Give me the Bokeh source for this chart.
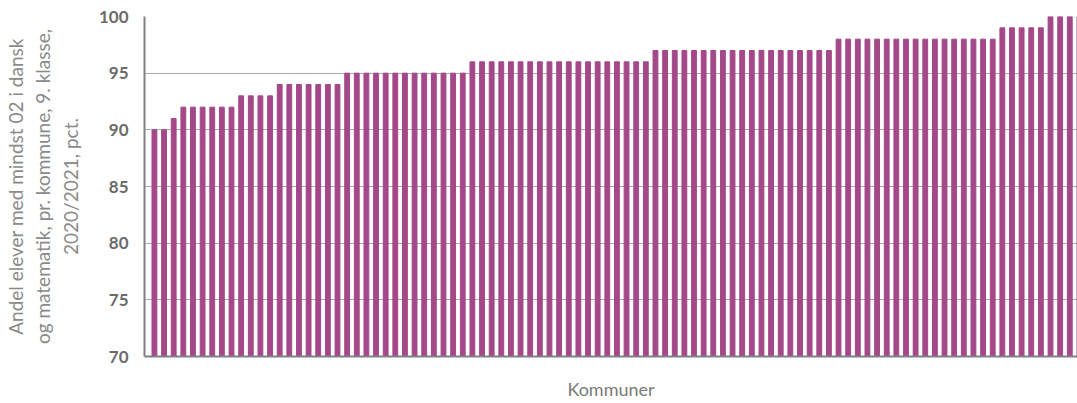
from bokeh.plotting import figure
from bokeh.embed import file_html
from bokeh.resources import INLINE
from bokeh.models import Range1d, FixedTicker

# Values per municipality (sorted)
levels = [90, 91, 92, 93, 94, 95, 96, 97, 98, 99, 100]
counts = [2, 1, 6, 4, 7, 13, 19, 19, 17, 5, 4]
values = []
for lv, c in zip(levels, counts):
    values += [lv] * c
idx = list(range(len(values)))
y_ticks = [70, 75, 80, 85, 90, 95, 100]

p = figure(width=1077, height=403, output_backend="svg", toolbar_location=None,
           x_range=Range1d(-1.03, 95.8), y_range=Range1d(70, 100),
           min_border_left=141, min_border_right=0, min_border_top=16, min_border_bottom=47)
p.outline_line_color = None
p.background_fill_color = "white"

p.vbar(x=idx, top=values, bottom=70, width=0.5, color="#A4488A")

p.xgrid.visible = False
p.ygrid.grid_line_color = "#555555"
p.ygrid.grid_line_dash = "1 1"
p.ygrid.grid_line_width = 1
p.ygrid.ticker = FixedTicker(ticks=y_ticks)

p.yaxis.ticker = FixedTicker(ticks=y_ticks)
p.yaxis.major_tick_out = 0
p.yaxis.major_tick_in = 0
p.yaxis.minor_tick_out = 0
p.yaxis.minor_tick_in = 0
p.yaxis.axis_line_color = "#808080"
p.yaxis.axis_line_width = 2
p.yaxis.major_label_text_font = "Lato"
p.yaxis.major_label_text_font_style = "bold"
p.yaxis.major_label_text_font_size = "17px"
p.yaxis.major_label_text_color = "#6b6b6b"
p.yaxis.major_label_standoff = 16
p.yaxis.axis_label = "Andel elever med mindst 02 i dansk\nog matematik, pr. kommune, 9. klasse,\n2020/2021, pct."
p.yaxis.axis_label_text_font = "Lato"
p.yaxis.axis_label_text_font_style = "normal"
p.yaxis.axis_label_text_font_size = "19px"
p.yaxis.axis_label_text_color = "#8a8a8a"
p.yaxis.axis_label_standoff = 14

p.xaxis.ticker = FixedTicker(ticks=[])
p.xaxis.major_tick_out = 0
p.xaxis.minor_tick_out = 0
p.xaxis.axis_line_color = "#808080"
p.xaxis.axis_line_width = 2
p.xaxis.major_label_text_font_size = "0px"
p.xaxis.axis_label = "Kommuner"
p.xaxis.axis_label_text_font = "Lato"
p.xaxis.axis_label_text_font_style = "normal"
p.xaxis.axis_label_text_font_size = "18px"
p.xaxis.axis_label_text_color = "#7a7a7a"
p.xaxis.axis_label_standoff = 21

open("out.html", "w").write(file_html(p, INLINE))
